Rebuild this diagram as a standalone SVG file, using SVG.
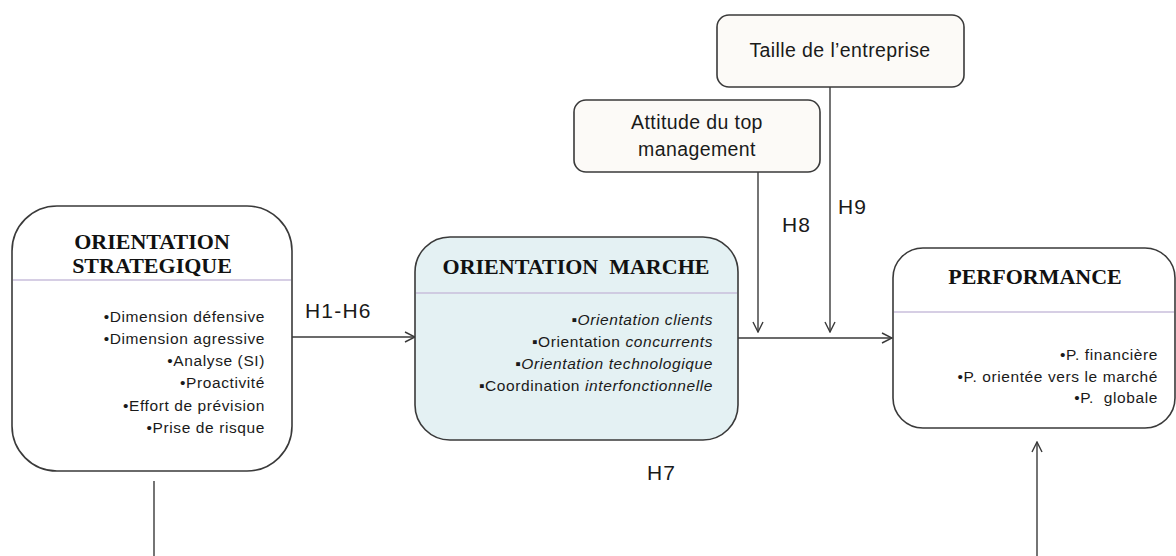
<svg xmlns="http://www.w3.org/2000/svg" width="1176" height="556" viewBox="0 0 1176 556">
<style>
.box{stroke:#3a3a3a;stroke-width:1.6}
.white{fill:#ffffff}
.cream{fill:#fcfaf7}
.blue{fill:#e4f1f3}
.div{stroke:#c9bedb;stroke-width:1.5}
.title{font-family:"Liberation Serif",serif;font-weight:bold;font-size:22px;fill:#111;text-anchor:middle}
.item{font-family:"Liberation Sans",sans-serif;font-size:15.5px;letter-spacing:0.6px;fill:#1a1a1a;text-anchor:end}
.lbl{font-family:"Liberation Sans",sans-serif;font-size:19.5px;letter-spacing:0.4px;fill:#1a1a1a;text-anchor:middle}
.h{font-family:"Liberation Sans",sans-serif;font-size:21px;letter-spacing:1.2px;fill:#1a1a1a}
.conn{stroke:#3a3a3a;stroke-width:1.4;fill:none}
</style>
<defs>
<marker id="arr" viewBox="0 0 12 12" refX="11" refY="6" markerWidth="12" markerHeight="12" markerUnits="userSpaceOnUse" orient="auto">
<path d="M1,1 L11,6 L1,11" fill="none" stroke="#3a3a3a" stroke-width="1.4"/>
</marker>
</defs>
<rect width="1176" height="556" fill="#ffffff"/>
<g id="connectors">
<line class="conn" x1="292" y1="337" x2="415" y2="337" marker-end="url(#arr)"/>
<line class="conn" x1="738" y1="338" x2="892" y2="338" marker-end="url(#arr)"/>
<line class="conn" x1="758" y1="172" x2="758" y2="332" marker-end="url(#arr)"/>
<line class="conn" x1="830" y1="87" x2="830" y2="332" marker-end="url(#arr)"/>
<line class="conn" x1="154" y1="481" x2="154" y2="556"/>
<line class="conn" x1="1037" y1="556" x2="1037" y2="442" marker-end="url(#arr)"/>
<text class="h" x="305" y="318">H1-H6</text>
<text class="h" x="782" y="232">H8</text>
<text class="h" x="838" y="214">H9</text>
<text class="h" x="647" y="480">H7</text>
</g>
<g id="strategique">
<rect class="box white" x="12" y="206" width="280" height="265" rx="45" ry="45"/>
<line class="div" x1="13" y1="280" x2="291" y2="280"/>
<text class="title" x="152" y="249">ORIENTATION</text>
<text class="title" x="152" y="273">STRATEGIQUE</text>
<text class="item" x="265" y="322">•Dimension défensive</text>
<text class="item" x="265" y="344">•Dimension agressive</text>
<text class="item" x="265" y="366">•Analyse (SI)</text>
<text class="item" x="265" y="388">•Proactivité</text>
<text class="item" x="265" y="411">•Effort de prévision</text>
<text class="item" x="265" y="433">•Prise de risque</text>
</g>
<g id="marche">
<rect class="box blue" x="415" y="237" width="323" height="203" rx="35" ry="35"/>
<line class="div" x1="416" y1="293" x2="737" y2="293"/>
<text class="title" x="576" y="274" xml:space="preserve">ORIENTATION  MARCHE</text>
<text class="item" x="713" y="325">▪<tspan font-style="italic">Orientation clients</tspan></text>
<text class="item" x="713" y="347">▪Orientation <tspan font-style="italic">concurrents</tspan></text>
<text class="item" x="713" y="369">▪<tspan font-style="italic">Orientation technologique</tspan></text>
<text class="item" x="713" y="391">▪Coordination <tspan font-style="italic">interfonctionnelle</tspan></text>
</g>
<g id="performance">
<rect class="box white" x="893" y="248" width="282" height="180" rx="30" ry="30"/>
<line class="div" x1="894" y1="312" x2="1174" y2="312"/>
<text class="title" x="1035" y="284">PERFORMANCE</text>
<text class="item" x="1158" y="360">•P. financière</text>
<text class="item" x="1158" y="382">•P. orientée vers le marché</text>
<text class="item" x="1158" y="403" xml:space="preserve">•P.  globale</text>
</g>
<g id="attitude">
<rect class="box cream" x="574" y="100" width="246" height="72" rx="12" ry="12"/>
<text class="lbl" x="697" y="129">Attitude du top</text>
<text class="lbl" x="697" y="156">management</text>
</g>
<g id="taille">
<rect class="box cream" x="717" y="15" width="247" height="72" rx="12" ry="12"/>
<text class="lbl" x="840" y="57">Taille de l’entreprise</text>
</g>
</svg>
